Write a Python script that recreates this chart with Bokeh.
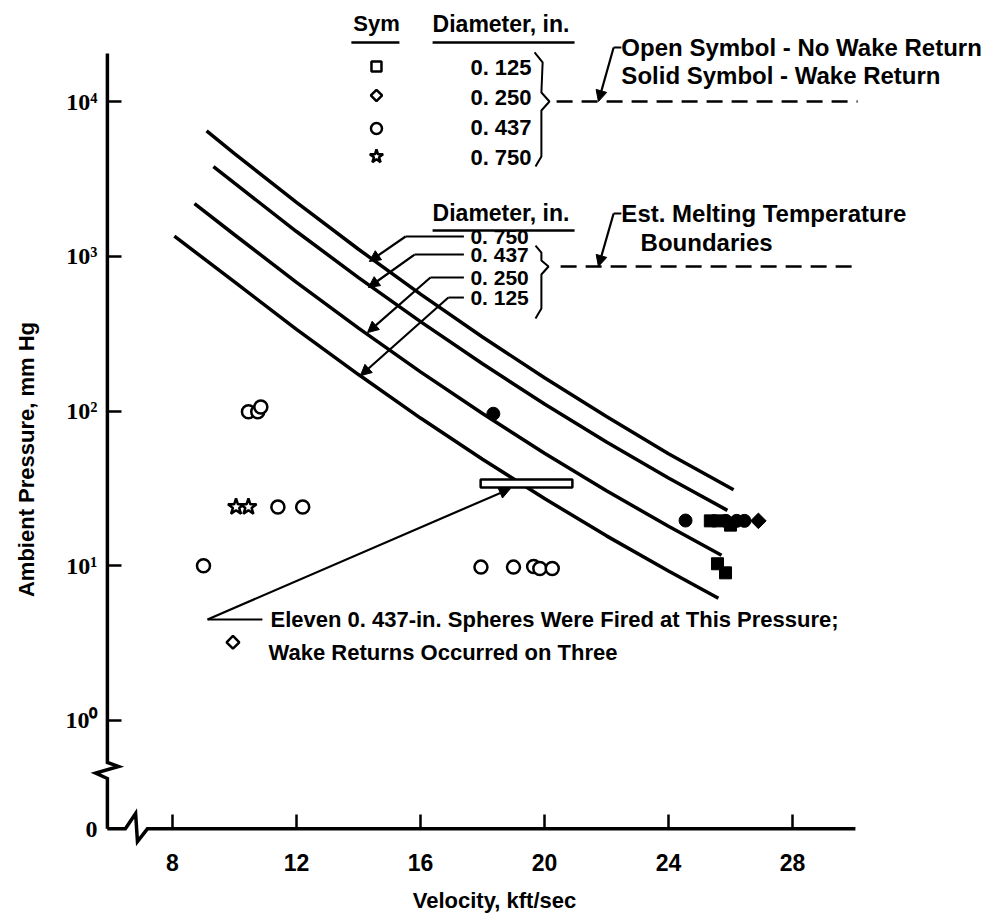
import math
from bokeh.plotting import figure
from bokeh.models import Range1d, FixedTicker, CustomJSTickFormatter, Label, Arrow, NormalHead
from bokeh.embed import file_html
from bokeh.resources import INLINE

# ---------------- data (velocity kft/sec, ambient pressure mm Hg) ----------------
x_ticks = [8, 12, 16, 20, 24, 28]
y_ticks = [10 ** -0.7, 1, 10, 100, 1000, 10000]   # lowest tick is the broken-axis "0"

# estimated melting temperature boundaries, by sphere diameter (in.)
v_750 = [9.1, 10, 12, 14, 16, 18, 20, 22, 24, 26.1]
p_750 = [6460, 4610, 2230, 1110, 569, 301, 164, 92, 53, 31]
v_437 = [9.32, 10, 12, 14, 16, 18, 20, 22, 24, 25.9]
p_437 = [3800, 2965, 1445, 728, 378, 202, 111, 63, 36.9, 22.8]
v_250 = [8.71, 10, 12, 14, 16, 18, 20, 22, 24, 25.71]
p_250 = [2190, 1377, 678, 343, 179, 96.4, 53.3, 30.5, 18.0, 11.7]
v_125 = [8.06, 10, 12, 14, 16, 18, 20, 22, 24, 25.61]
p_125 = [1350, 682, 337, 172, 90, 48.8, 27.2, 15.6, 9.25, 6.17]

# open symbols - no wake return
open_circle_v = [9.0, 10.45, 10.75, 10.85, 11.4, 12.2, 17.95, 19.0, 19.65, 19.85, 20.25]
open_circle_p = [10, 99, 99, 106, 24, 24, 9.8, 9.8, 9.9, 9.6, 9.6]
open_star_v = [10.05, 10.45]
open_star_p = [24, 24]
open_diamond_v = [9.95]
open_diamond_p = [3.2]
# solid symbols - wake return
solid_circle_v = [18.35, 24.55, 25.85, 26.2, 26.45]
solid_circle_p = [96, 19.6, 19.5, 19.5, 19.5]
solid_square_v = [25.35, 25.6, 26.0, 25.58, 25.84]
solid_square_p = [19.5, 19.5, 18.3, 10.3, 9.0]
solid_diamond_v = [26.9]
solid_diamond_p = [19.5]
# eleven 0.437-in. spheres fired at this pressure (velocity span)
eleven_v = [17.94, 20.9]
eleven_p = 34

legend_diams = ["0. 125", "0. 250", "0. 437", "0. 750"]
curve_diams = ["0. 750", "0. 437", "0. 250", "0. 125"]

# ---------------- figure ----------------
SANS = "Liberation Sans"
SERIF = "Liberation Serif"
K = "black"
DIAMOND = math.pi / 4

p = figure(width=988, height=918, y_axis_type="log",
           x_range=Range1d(2.4516, 34.323), y_range=Range1d(10 ** -1.2795, 10 ** 4.6527),
           output_backend="svg", toolbar_location=None,
           min_border_left=0, min_border_right=0, min_border_top=0, min_border_bottom=0)
p.outline_line_color = None
p.xgrid.visible = False
p.ygrid.visible = False
p.background_fill_color = "white"
p.border_fill_color = "white"

AX0_X = 5.9
AX0_Y = 10 ** -0.7

xa = p.xaxis[0]
xa.fixed_location = AX0_Y
xa.ticker = FixedTicker(ticks=x_ticks)
xa.axis_line_color = None
xa.major_tick_in = 14
xa.major_tick_out = 0
xa.major_tick_line_width = 2.5
xa.minor_tick_line_color = None
xa.major_label_text_font = SANS
xa.major_label_text_font_size = "23px"
xa.major_label_text_font_style = "bold"
xa.major_label_text_color = K
xa.major_label_standoff = 25
xa.axis_label = "Velocity, kft/sec"
xa.axis_label_text_font = SANS
xa.axis_label_text_font_size = "22px"
xa.axis_label_text_font_style = "bold"
xa.axis_label_text_color = K
xa.axis_label_standoff = 14

ya = p.yaxis[0]
ya.fixed_location = AX0_X
ya.ticker = FixedTicker(ticks=y_ticks)
ya.formatter = CustomJSTickFormatter(code="""
    if (tick < 0.5) { return "0"; }
    const e = Math.round(Math.log10(tick));
    const sup = ["\\u2070", "\\u00b9", "\\u00b2", "\\u00b3", "\\u2074", "\\u2075"];
    return "10" + sup[e];
""")
ya.axis_line_color = None
ya.major_tick_in = 14
ya.major_tick_out = 0
ya.major_tick_line_width = 2.5
ya.minor_tick_line_color = None
ya.major_label_text_font = SERIF
ya.major_label_text_font_size = "24px"
ya.major_label_text_font_style = "bold"
ya.major_label_text_color = K
ya.major_label_standoff = 10
ya.axis_label = "Ambient Pressure, mm Hg"
ya.axis_label_text_font = SANS
ya.axis_label_text_font_size = "22px"
ya.axis_label_text_font_style = "bold"
ya.axis_label_text_color = K
ya.axis_label_standoff = 24

# axis lines with breaks
p.line([AX0_X, AX0_X, 6.26, 5.52, AX0_X, AX0_X],
       [10 ** 4.31, 10 ** -0.271, 10 ** -0.297, 10 ** -0.34, 10 ** -0.375, AX0_Y],
       line_color=K, line_width=3.5, line_join="miter")
p.line([AX0_X, 6.48, 6.81, 6.87, 7.19, 30.03],
       [AX0_Y, AX0_Y, 10 ** -0.601, 10 ** -0.782, AX0_Y, AX0_Y],
       line_color=K, line_width=3.5, line_join="miter")

# boundary curves
for v, pr in [(v_750, p_750), (v_437, p_437), (v_250, p_250), (v_125, p_125)]:
    p.line(v, pr, line_color=K, line_width=3.5)

# bar for the eleven shots
p.rect(x=sum(eleven_v) / 2, y=eleven_p, width=eleven_v[1] - eleven_v[0], height=8,
       height_units="screen", fill_color="white", line_color=K, line_width=2.5)

# data points
p.scatter(open_circle_v, open_circle_p, marker="circle", size=13, fill_color="white",
          line_color=K, line_width=2.5)
p.scatter(open_star_v, open_star_p, marker="star", size=17, fill_color="white",
          line_color=K, line_width=2.5)
p.scatter(open_diamond_v, open_diamond_p, marker="square", angle=DIAMOND, size=9,
          fill_color="white", line_color=K, line_width=2.5)
p.scatter(solid_circle_v, solid_circle_p, marker="circle", size=13, fill_color=K, line_color=K)
p.scatter(solid_square_v, solid_square_p, marker="square", size=12, fill_color=K, line_color=K)
p.scatter(solid_diamond_v, solid_diamond_p, marker="square", angle=DIAMOND, size=11,
          fill_color=K, line_color=K)


def label(x, y, text, size="22px", align="left", font=SANS, style="bold"):
    p.add_layout(Label(x=x, y=y, text=text, text_font=font, text_font_size=size,
                       text_font_style=style, text_align=align, text_baseline="middle",
                       text_color=K))


def arrow(x0, y0, x1, y1):
    p.add_layout(Arrow(end=NormalHead(size=11, fill_color=K, line_color=K, line_width=1),
                       x_start=x0, y_start=y0, x_end=x1, y_end=y1,
                       line_color=K, line_width=2.2))


# ---- symbol legend ----
label(14.58, 31900, "Sym", align="center")
p.line([13.77, 15.32], [24040, 24040], line_color=K, line_width=2.5)
label(16.39, 31900, "Diameter, in.", size="23px")
p.line([16.39, 20.97], [24040, 24040], line_color=K, line_width=2.5)
leg_y = [16830, 10940, 6695, 4412]
leg_lbl_y = [16590, 10610, 6792, 4347]
leg_marks = [("square", 0, 10), ("square", DIAMOND, 8), ("circle", 0, 11), ("star", 0, 14)]
for (mk, ang, sz), yy in zip(leg_marks, leg_y):
    p.scatter([14.58], [yy], marker=mk, angle=ang, size=sz,
              fill_color="white", line_color=K, line_width=2.5)
for t, yy in zip(legend_diams, leg_lbl_y):
    label(17.61, yy, t)
p.line([19.68, 19.94, 19.90, 20.16, 19.90, 19.90, 19.71],
       [20750, 17870, 11430, 10000, 8750, 4415, 3800], line_color=K, line_width=2)
p.line([20.39, 30.1], [10000, 10000], line_color=K, line_width=2.5, line_dash="16 9")
label(22.48, 22340, "Open Symbol - No Wake Return", size="24px")
label(22.48, 14720, "Solid Symbol - Wake Return", size="24px")
p.line([22.23, 22.48], [22340, 22340], line_color=K, line_width=2)
arrow(22.23, 22340, 21.74, 10000)

# ---- melting boundary legend ----
label(16.39, 1890, "Diameter, in.", size="23px")
p.line([16.39, 20.97], [1466, 1466], line_color=K, line_width=2.5)
cl_y = [1342, 1026, 729, 541]
for t, yy in zip(curve_diams, cl_y):
    label(17.61, yy, t, size="21px")
starts_v = [15.52, 15.81, 16.32, 16.90]
tips = [(14.35, 925), (14.32, 628), (14.29, 321), (14.06, 169)]
for sv, yy, (tx, ty) in zip(starts_v, cl_y, tips):
    p.line([sv, 17.4], [yy, yy], line_color=K, line_width=2)
    arrow(sv, yy, tx, ty)
p.line([19.71, 19.90, 19.90, 20.13, 19.90, 19.90, 19.71],
       [1173, 1057, 940, 859, 762, 459, 396], line_color=K, line_width=2)
p.line([20.52, 30.1], [859, 859], line_color=K, line_width=2.5, line_dash="16 9")
label(22.48, 1890, "Est. Melting Temperature", size="24px")
label(23.1, 1227, "Boundaries", size="24px")
p.line([22.23, 22.48], [1890, 1890], line_color=K, line_width=2)
arrow(22.23, 1890, 21.74, 859)

# ---- eleven-shot note ----
label(11.16, 4.5, "Eleven 0. 437-in. Spheres Were Fired at This Pressure;")
label(11.1, 2.75, "Wake Returns Occurred on Three")
p.line([9.13, 10.9], [4.5, 4.5], line_color=K, line_width=2)
arrow(9.13, 4.5, 18.9, 31.5)

open("out.html", "w", encoding="utf-8").write(file_html(p, INLINE))
